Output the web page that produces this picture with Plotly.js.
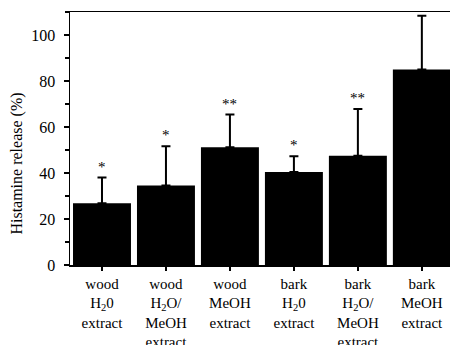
<!DOCTYPE html>
<html>
<head>
<meta charset="utf-8">
<script src="https://cdn.plot.ly/plotly-3.0.1.min.js"></script>
<style>html,body{margin:0;padding:0;background:#fff;}#chart{width:450px;height:345px;}</style>
</head>
<body>
<div id="chart"></div>
<script>
const categories = [
  "wood<br>H<sub>2</sub>0<br>extract",
  "wood<br>H<sub>2</sub>O/<br>MeOH<br>extract",
  "wood<br>MeOH<br>extract",
  "bark<br>H<sub>2</sub>0<br>extract",
  "bark<br>H<sub>2</sub>O/<br>MeOH<br>extract",
  "bark<br>MeOH<br>extract"
];
const release = [26.8, 34.6, 51.2, 40.4, 47.5, 85.0];
const errorPlus = [11.2, 17.0, 14.2, 6.9, 20.3, 23.4];
const stars = ["*", "*", "**", "*", "**", ""];
const tickVals = [0, 20, 40, 60, 80, 100];

const font = "Liberation Serif, Times New Roman, serif";

const trace = {
  type: "bar",
  x: categories,
  y: release,
  marker: {color: "#000", line: {width: 0}},
  error_y: {
    type: "data",
    symmetric: false,
    array: errorPlus,
    arrayminus: release.map(() => 0),
    color: "#000",
    thickness: 2,
    width: 4.5
  },
  hoverinfo: "none"
};

const annotations = categories.map((c, i) => ({
  x: c, y: release[i] + errorPlus[i],
  xref: "x", yref: "y",
  text: stars[i], showarrow: false,
  yanchor: "bottom", yshift: 1,
  font: {family: font, size: 15, color: "#000"}
})).filter(a => a.text !== "");

annotations.push({
  xref: "paper", yref: "paper",
  x: -0.14, y: 0.40,
  xanchor: "center", yanchor: "middle",
  text: "Histamine release (%)",
  textangle: -90, showarrow: false,
  font: {family: font, size: 16, color: "#000"}
});

const layout = {
  width: 450, height: 345,
  margin: {l: 70, r: 0, t: 12, b: 80},
  paper_bgcolor: "#fff", plot_bgcolor: "#fff",
  bargap: 0.094,
  showlegend: false,
  font: {family: font, size: 15, color: "#000"},
  xaxis: {
    type: "category",
    range: [-0.5, 5.44],
    showline: true, linecolor: "#000", linewidth: 1.5,
    mirror: true,
    ticks: "outside", ticklen: 4, tickwidth: 1.5, tickcolor: "#000",
    showgrid: false, zeroline: false,
    tickfont: {family: font, size: 15, color: "#000"},
    fixedrange: true
  },
  yaxis: {
    range: [0, 110],
    tickvals: tickVals,
    showline: true, linecolor: "#000", linewidth: 1.5,
    ticks: "outside", ticklen: 5, tickwidth: 1.5, tickcolor: "#000",
    minor: {dtick: 10, tick0: 0, ticks: "outside", ticklen: 4, tickwidth: 1.5, tickcolor: "#000", showgrid: false},
    showgrid: false, zeroline: false,
    tickfont: {family: font, size: 16, color: "#000"},
    ticklabelstandoff: 5,
    fixedrange: true
  },
  annotations: annotations
};

Plotly.newPlot("chart", [trace], layout, {displayModeBar: false, staticPlot: true});
</script>
</body>
</html>
